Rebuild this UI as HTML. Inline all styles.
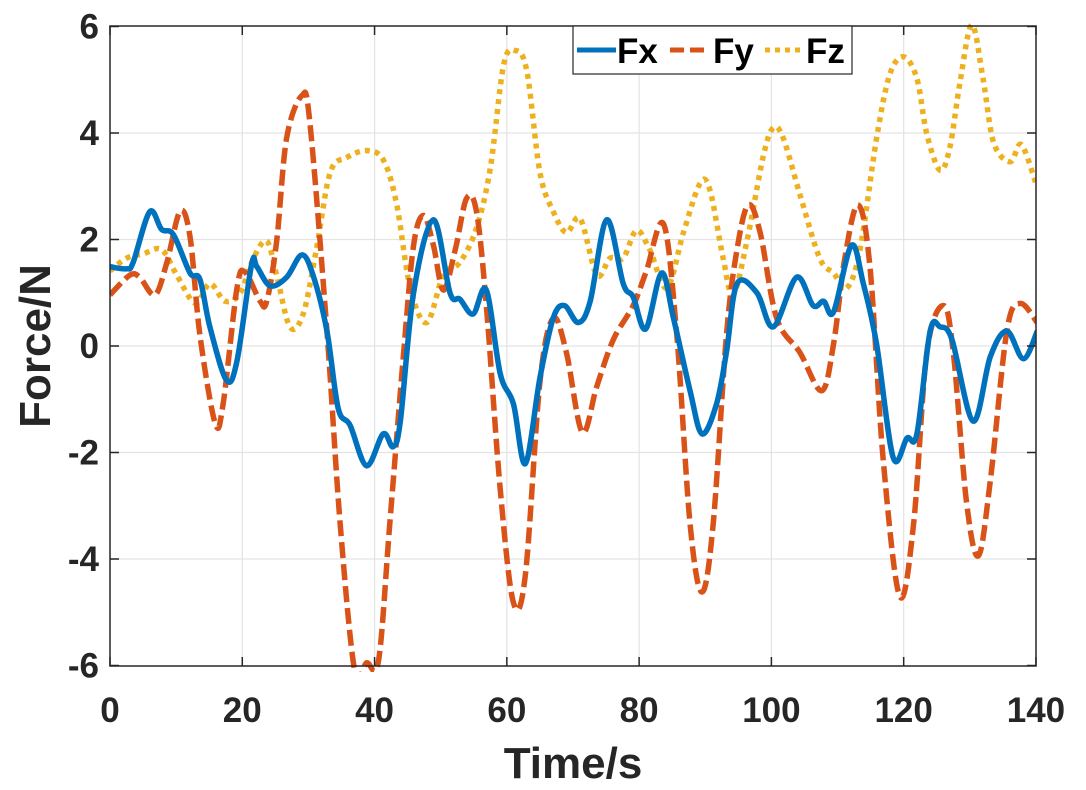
<!DOCTYPE html>
<html><head><meta charset="utf-8"><style>
html,body{margin:0;padding:0;background:#fff;}
svg{display:block;font-family:"Liberation Sans",Arial,sans-serif;font-weight:bold;}
</style></head><body>
<svg id="s" width="1086" height="790" viewBox="0 0 1086 790" xmlns="http://www.w3.org/2000/svg">
<defs><clipPath id="c"><rect x="110" y="20" width="926" height="652"/></clipPath></defs>
<rect width="1086" height="790" fill="#fff"/>
<g id="grid" stroke="#e3e3e3" stroke-width="1.2"></g>
<g id="series" clip-path="url(#c)" fill="none" stroke-width="5.5" stroke-linejoin="round"></g>
<rect x="110" y="26" width="926" height="640" fill="none" stroke="#262626" stroke-width="1.5"/>
<g id="ticks" stroke="#262626" stroke-width="1.5"></g>
<g id="labels" font-size="35" fill="#262626"></g>
<text x="573" y="778" font-size="44" text-anchor="middle" fill="#262626">Time/s</text>
<text transform="translate(50,346) rotate(-90)" font-size="44" text-anchor="middle" fill="#262626">Force/N</text>
<g>
<rect x="573" y="26" width="279" height="48" fill="#fff" stroke="#262626" stroke-width="1.2"/>
<line x1="577" y1="50" x2="616" y2="50" stroke="#0072BD" stroke-width="5"/>
<text x="617" y="63" font-size="35" fill="#000">Fx</text>
<line x1="670" y1="50" x2="706" y2="50" stroke="#D95319" stroke-width="5" stroke-dasharray="14,6"/>
<text x="713" y="63" font-size="35" fill="#000">Fy</text>
<line x1="765" y1="50" x2="802" y2="50" stroke="#EDB120" stroke-width="5" stroke-dasharray="5,5"/>
<text x="806" y="63" font-size="35" fill="#000">Fz</text>
</g>
</svg>
<script>
const X=t=>110+t*6.614, Y=v=>346-v*53.25;
const ns="http://www.w3.org/2000/svg";
function el(p,tag,a,txt){const e=document.createElementNS(ns,tag);for(const k in a)e.setAttribute(k,a[k]);if(txt!=null)e.textContent=txt;document.getElementById(p).appendChild(e);}
for(let t=20;t<140;t+=20)el("grid","line",{x1:X(t),y1:26,x2:X(t),y2:666});
for(let v=-4;v<=4;v+=2)el("grid","line",{x1:110,y1:Y(v),x2:1036,y2:Y(v)});
for(let t=0;t<=140;t+=20){el("ticks","line",{x1:X(t),y1:666,x2:X(t),y2:657});el("ticks","line",{x1:X(t),y1:26,x2:X(t),y2:35});
 el("labels","text",{x:X(t),y:722,"text-anchor":"middle"},String(t));}
for(let v=-6;v<=6;v+=2){el("ticks","line",{x1:110,y1:Y(v),x2:119,y2:Y(v)});el("ticks","line",{x1:1036,y1:Y(v),x2:1027,y2:Y(v)});
 el("labels","text",{x:99,y:Y(v)+12,"text-anchor":"end"},String(v));}
function path(pts){const P=pts.map(p=>[X(p[0]),Y(p[1])]);let d="M"+P[0][0]+","+P[0][1];
 for(let i=0;i<P.length-1;i++){const p0=P[Math.max(0,i-1)],p1=P[i],p2=P[i+1],p3=P[Math.min(P.length-1,i+2)];
 const c1=[p1[0]+(p2[0]-p0[0])/6,p1[1]+(p2[1]-p0[1])/6],c2=[p2[0]-(p3[0]-p1[0])/6,p2[1]-(p3[1]-p1[1])/6];
 d+=" C"+c1+" "+c2+" "+p2;}return d;}
const fx=[[0,1.49],[2.5,1.45],[3.5,1.57],[6,2.52],[7.8,2.19],[9.6,2.09],[12.1,1.37],[13.6,1.25],[15.1,0.36],[17.6,-0.64],[19.2,-0.28],[21.4,1.53],[22.2,1.49],[24.2,1.13],[26.7,1.29],[29,1.71],[30.7,1.33],[32.8,0.28],[34.5,-1.17],[36.3,-1.49],[38.8,-2.25],[41.3,-1.65],[42.8,-1.89],[43.9,-1.41],[45.9,1.0],[48.9,2.37],[51.4,1.0],[52.9,0.88],[54.9,0.6],[56.9,1.05],[59,-0.52],[61,-1.09],[62.8,-2.21],[65,-0.6],[67,0.52],[68.7,0.76],[70.8,0.44],[72.6,0.84],[75.1,2.37],[77.6,1.17],[79.1,0.92],[81,0.32],[83.4,1.37],[85.2,0.52],[87.7,-0.84],[89.5,-1.65],[91.7,-1.09],[93.2,-0.12],[94.8,1.17],[97.8,1.0],[100.3,0.36],[103.8,1.29],[106.3,0.76],[107.9,0.84],[109.4,0.64],[112.1,1.89],[113.9,1.17],[115.9,0.04],[118.4,-2.09],[120.5,-1.73],[122,-1.65],[124,0.28],[125.5,0.36],[127.3,0.12],[130.5,-1.41],[133.1,-0.2],[135.6,0.28],[138.1,-0.24],[140.2,0.28]];
const fy=[[0,0.96],[3,1.33],[4.5,1.29],[6.8,0.96],[8.6,1.57],[10.6,2.53],[12.1,2.05],[13.6,0.2],[15.9,-1.45],[17.1,-1.09],[19.2,1.09],[20.4,1.39],[22.7,0.84],[23.7,0.84],[25.2,1.97],[26.7,3.9],[29,4.7],[30.2,4.22],[32.8,0.28],[34.8,-3.34],[37,-6.1],[38.8,-5.95],[40.6,-5.91],[42.3,-3.34],[44.4,-0.12],[45.9,1.89],[47.4,2.45],[48.9,1.89],[50.4,1.05],[52.2,1.81],[53.9,2.77],[55.4,2.53],[56.9,0.76],[59,-2.69],[61,-4.82],[62.8,-4.3],[65,-0.68],[67,0.52],[69,-0.12],[71.4,-1.62],[73.6,-0.76],[76.1,0.12],[79.1,0.76],[81.1,1.41],[83.7,2.29],[85.7,0.2],[87.7,-3.34],[89.5,-4.62],[91.2,-3.34],[93.2,0.2],[94.8,1.81],[96.5,2.65],[98.3,2.13],[100.8,0.52],[104.3,-0.12],[107.6,-0.84],[109.4,0.04],[111.1,1.65],[113.1,2.65],[114.9,1.49],[116.9,-2.13],[119.4,-4.7],[121.5,-3.34],[123.5,-0.12],[126,0.76],[127.5,-0.12],[129.5,-2.93],[131.3,-3.94],[133.1,-2.53],[135.6,0.28],[137.6,0.8],[140.2,0.44]];
const fz=[[0,1.41],[2.5,1.65],[5,1.73],[7.8,1.81],[10.1,1.33],[12.9,0.8],[15.1,1.17],[17.4,0.84],[19.7,1.0],[21.7,1.65],[23.7,1.97],[25.2,1.33],[27.2,0.36],[29.2,0.6],[31.2,1.81],[33.3,3.26],[35.8,3.54],[38.8,3.67],[41.3,3.5],[43.3,2.69],[45.4,1.09],[47.9,0.44],[50.4,1.33],[52.9,1.57],[55.4,2.21],[57.5,3.34],[59.5,5.27],[61.2,5.55],[63,5.18],[65,3.26],[67,2.53],[69,2.13],[71.1,2.39],[73.6,1.33],[75.6,1.65],[77.6,1.65],[79.6,2.17],[81.6,1.81],[84.2,1.09],[86.7,2.13],[89.2,3.05],[90.7,2.93],[92.7,1.65],[94.2,0.96],[96.3,1.97],[98.8,3.58],[100.3,4.1],[101.8,3.9],[104.3,2.85],[107.3,1.65],[109.4,1.37],[111.4,1.09],[113.4,1.81],[115.9,3.9],[117.9,5.1],[120,5.43],[122,5.02],[123.5,3.98],[125.5,3.3],[127,3.74],[128.5,4.94],[130.3,6.03],[132,5.02],[133.6,3.82],[136.1,3.46],[137.8,3.78],[140.1,3.01]];
el("series","path",{d:path(fz),stroke:"#EDB120","stroke-dasharray":"5,5"});
el("series","path",{d:path(fy),stroke:"#D95319","stroke-dasharray":"16,6"});
el("series","path",{d:path(fx),stroke:"#0072BD"});
</script>
</body></html>
